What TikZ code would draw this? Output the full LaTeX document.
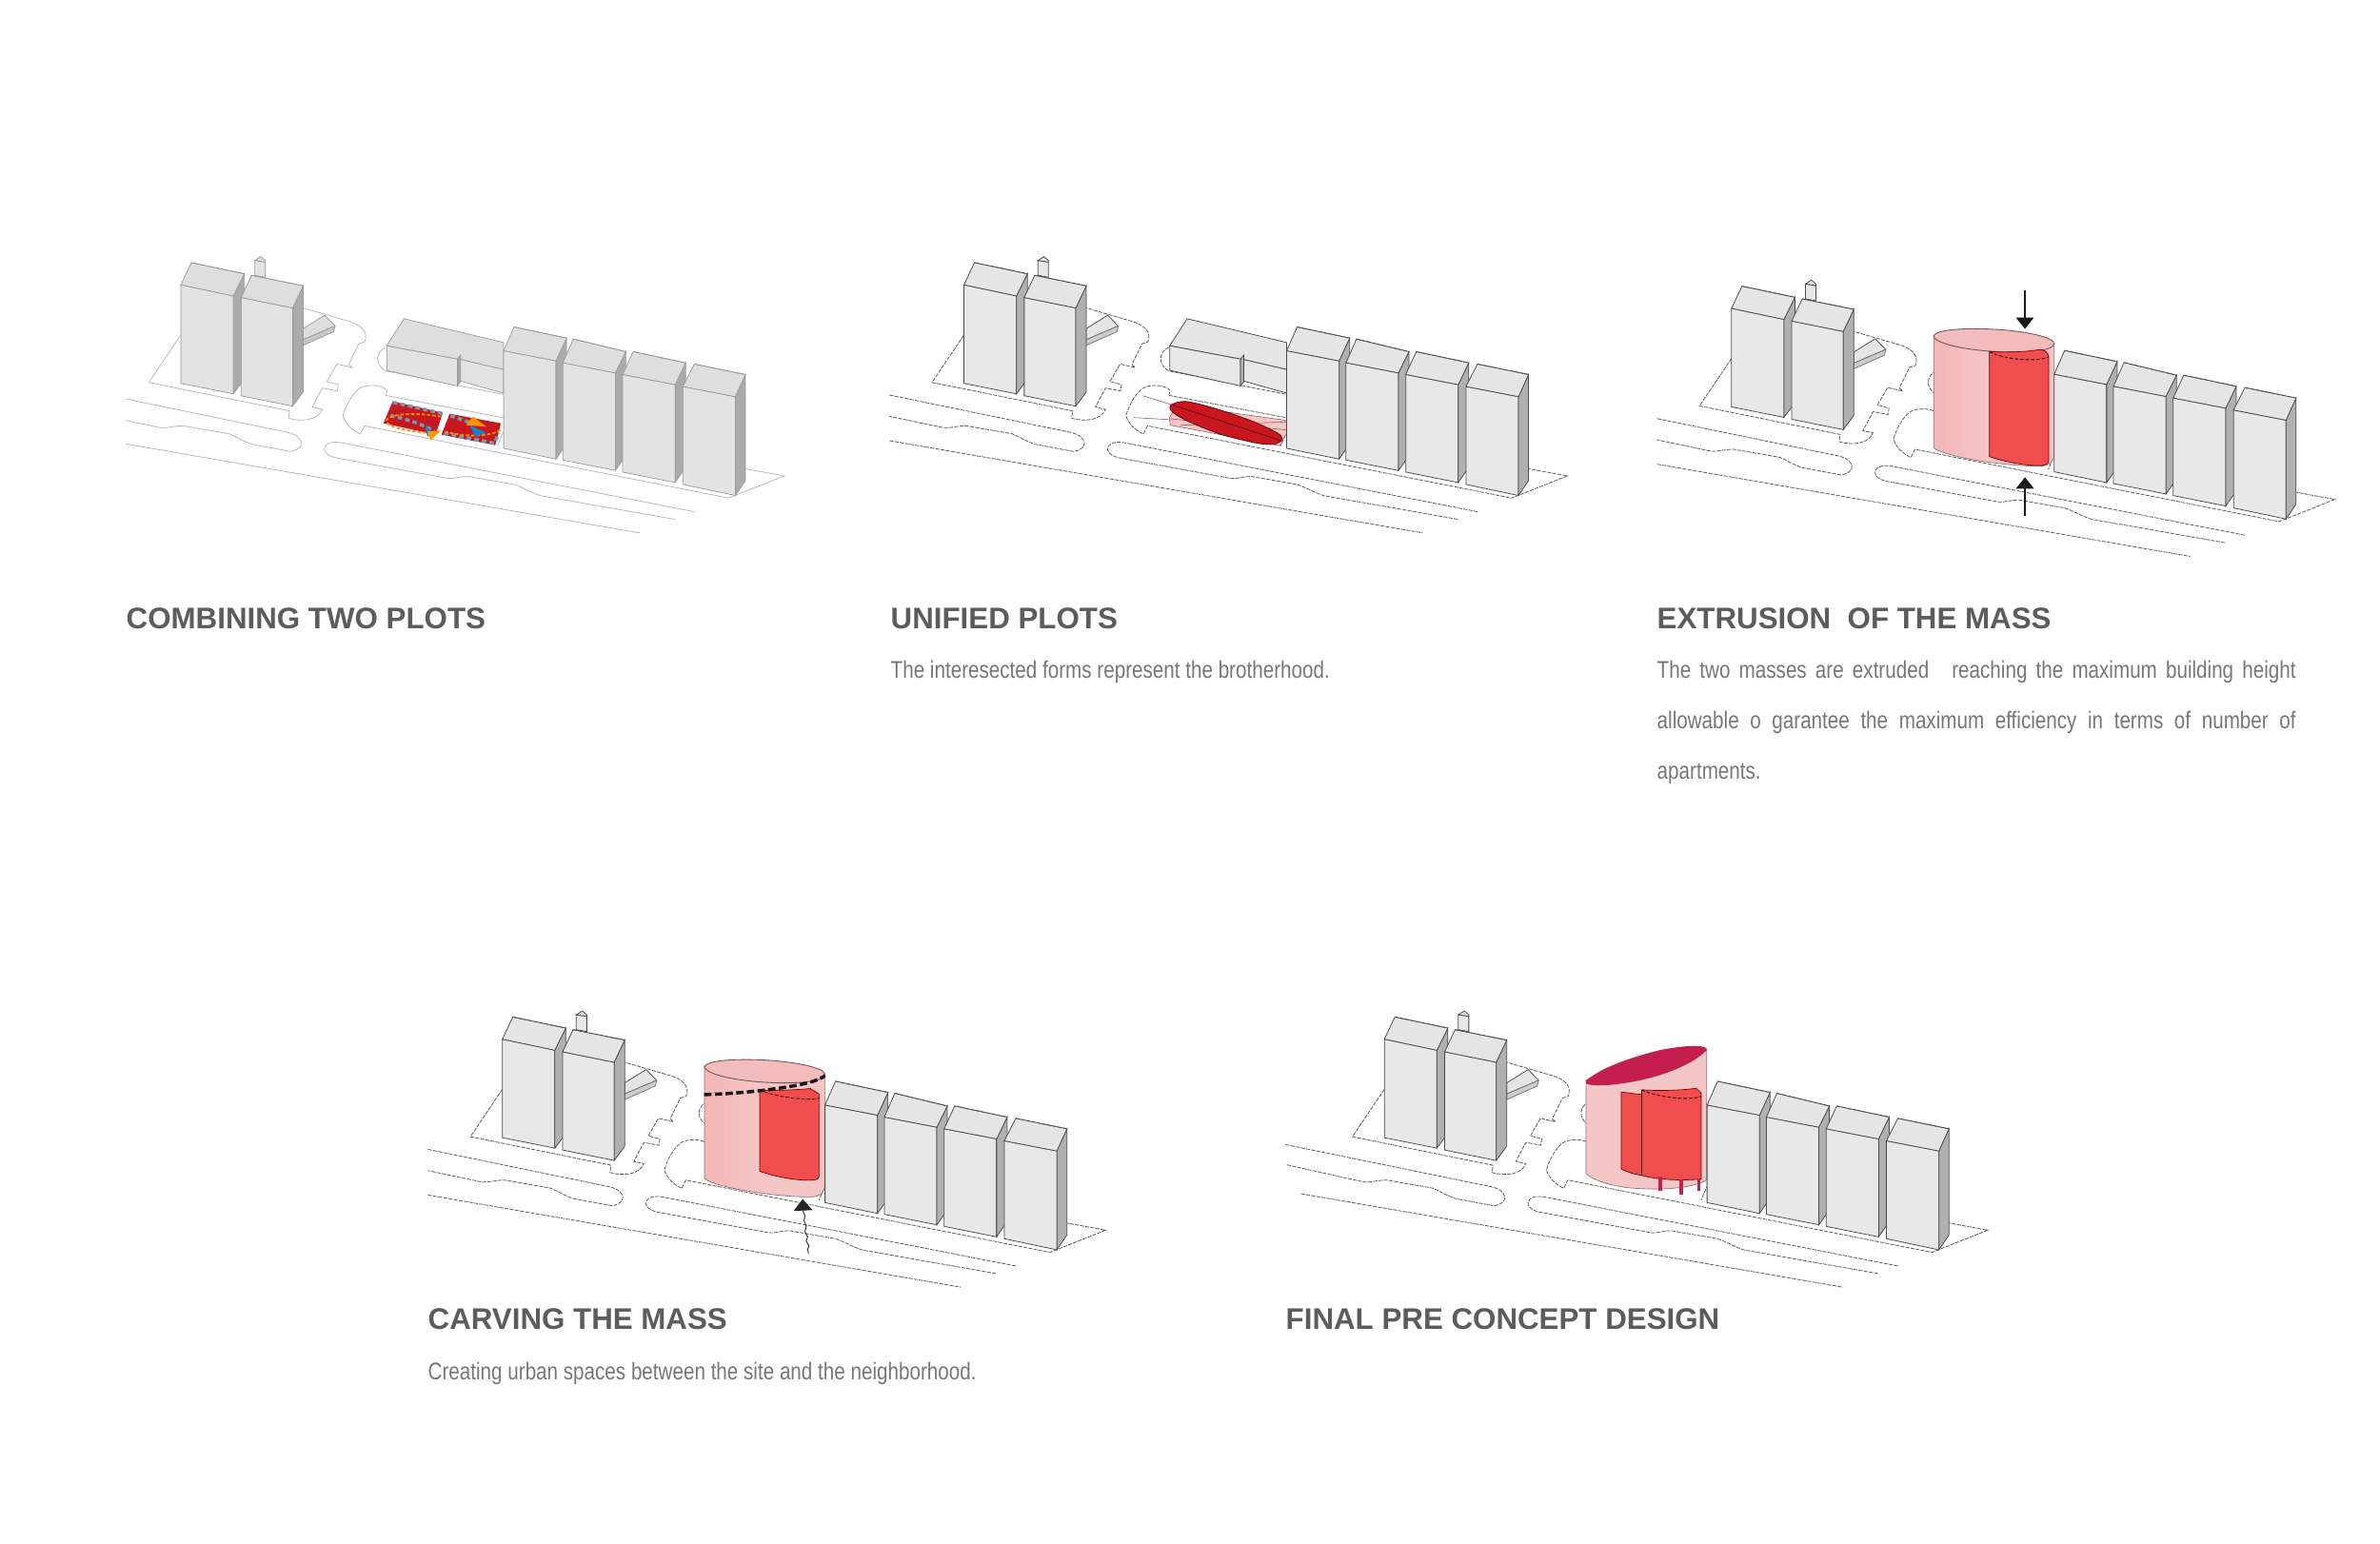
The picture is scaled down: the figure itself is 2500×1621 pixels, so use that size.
\documentclass[tikz,border=0pt]{standalone}
\usepackage{fontspec}
\usetikzlibrary{arrows.meta}
\newfontfamily\headfont{Liberation Sans}[BoldFont={Liberation Sans Bold}]
\newfontfamily\bodyfont[FakeStretch=0.815]{Liberation Sans}
\definecolor{headgrey}{HTML}{5C5C5C}
\definecolor{bodygrey}{HTML}{777777}
\definecolor{pinkbody}{HTML}{F5C6C6}
\definecolor{pinkleft}{HTML}{F3B7B7}
\definecolor{pinktop}{HTML}{F3BCBC}
\definecolor{redmass}{HTML}{EF4D4E}
\definecolor{crimson}{HTML}{C41E4F}
\definecolor{plotred}{HTML}{C8171E}
\tikzset{
  zoomed/.style={x=0.004784cm,y=-0.0033333cm},
  heading/.style={anchor=base west,inner sep=0pt,text=headgrey,font=\headfont\bfseries\fontsize{8.9}{10}\selectfont},
  bodytext/.style={anchor=base west,inner sep=0pt,text=bodygrey,font=\bodyfont\fontsize{7.2}{15}\selectfont},
  site/.style={draw=black!65,line width=.22pt,dash pattern=on 1.2pt off .35pt},
  front/.style={fill=black!9,draw=black!70,line width=.22pt},
  roofface/.style={fill=black!10,draw=black!70,line width=.22pt},
  sideface/.style={fill=black!31,draw=black!70,line width=.22pt},
  wedgeside/.style={fill=black!20,draw=black!55,line width=.2pt},
  backedge/.style={draw=black!70,line width=.22pt,dash pattern=on 1.2pt off .4pt},
  coolpanel/.style={
    site/.style={draw=black!28,line width=.22pt},
    front/.style={fill=blue!2!black!11,draw=black!40,line width=.2pt},
    roofface/.style={fill=blue!2!black!13,draw=black!40,line width=.2pt},
    sideface/.style={fill=blue!2!black!33,draw=black!40,line width=.2pt},
    wedgeside/.style={fill=blue!2!black!22,draw=black!40,line width=.2pt},
    backedge/.style={draw=black!40,line width=.2pt}},
  pinkmass/.style={fill=pinkbody,draw=pink!60!black,line width=.2pt},
  pinktopface/.style={fill=pinktop,draw=pink!45!black,line width=.25pt},
  redface/.style={fill=redmass,draw=red!45!black,line width=.2pt},
  inneredge/.style={draw=red!20!black,line width=.25pt,dash pattern=on 1pt off .6pt},
  bigarrow/.style={-{Triangle[length=3.4pt,width=5.2pt]},line width=.7pt,black!90},
  legline/.style={draw=crimson,line width=1pt},
}
% #1..#7: front top left, front top right, front bottom left, front bottom right, back left, back right, side bottom
\newcommand\twr[7]{%
  \path[front] (#1) -- (#2) -- (#4) -- (#3) -- cycle;
  \path[sideface] (#2) -- (#6) -- (#7) -- (#4) -- cycle;
  \path[roofface] (#1) -- (#5) -- (#6) -- (#2) -- cycle;
  \path[backedge] (#5) -- (#6);
}
% #1,#2,#3: free ends of the three roads at the left
\newcommand\siteplan[3]{%
  \path[site] (205,290) -- (135,440) -- (443,530) -- (441,553) .. controls (470,565) and (505,560) .. (515,525) -- (493,518) -- (515,458) -- (548,467) -- (550,447) -- (525,437) -- (547,382) -- (580,393) -- (573,383) -- (595,318) -- (608,312) .. controls (615,285) and (605,262) .. (575,248) -- (473,205);
  \path[site] (#1) -- (440,598) .. controls (475,610) and (480,650) .. (445,658) -- (360,635) .. controls (340,625) and (325,610) .. (310,602) -- (210,577) .. controls (190,577) and (175,585) .. (160,583) -- (#2);
  \path[site] (#3) -- (1210,915);
  \path[site] (1330,848) -- (555,630) .. controls (515,620) and (505,665) .. (545,678) -- (790,743) .. controls (805,745) and (820,735) .. (835,737) -- (935,762) .. controls (960,775) and (975,790) .. (995,798) -- (1287,872);
  \path[site] (654,481) -- (657,466) .. controls (645,445) and (610,445) .. (595,460) .. controls (575,485) and (565,520) .. (560,545) .. controls (565,570) and (580,590) .. (598,603) -- (607,577) -- (1405,805) -- (1527,735) -- (1440,712);
  \path[site] (654,481) -- (914,552);
  \path[site] (914,590) -- (899,640);
  \path[site] (654,329) .. controls (630,345) and (630,385) .. (654,404) -- (912,478);
}
\newcommand\lefttowers{%
  \path[front] (367,102) -- (367,55) -- (390,60) -- (390,108) -- cycle;
  \path[roofface] (367,55) -- (380,43) -- (390,55) -- (390,60) -- cycle;
  \path[roofface] (473,270) -- (520,228) -- (543,262) -- (473,305) -- cycle;
  \path[wedgeside] (473,305) -- (543,262) -- (540,280) -- (473,323) -- cycle;
  \twr{205,132}{320,167}{205,443}{320,476}{228,62}{344,97}{344,430}
  \twr{337,172}{450,205}{337,482}{450,515}{360,102}{473,135}{473,470}
}
\newcommand\righttowers{%
  \twr{912,340}{1027,372}{912,648}{1027,682}{935,265}{1050,300}{1050,635}
  \twr{1042,378}{1157,410}{1042,685}{1157,718}{1065,303}{1180,343}{1180,672}
  \twr{1173,415}{1288,447}{1173,723}{1288,756}{1196,343}{1311,378}{1311,708}
  \twr{1305,453}{1420,485}{1305,762}{1420,797}{1330,382}{1442,415}{1442,750}
}
\newcommand\lowbuilding{%
  \path[front] (656,324) -- (811,366) -- (811,451) -- (656,402) -- cycle;
  \path[front] (814,366) -- (912,399) -- (912,474) -- (814,434) -- cycle;
  \path[roofface] (656,324) -- (694,239) -- (912,314) -- (912,399) -- (814,366) -- (811,366) -- cycle;
  \path[sideface] (811,366) -- (818,354) -- (818,438) -- (811,451) -- cycle;
}
\newcommand\cylbody{%
  \path[pinkmass,left color=pinkleft,right color=pinkbody,middle color=pinkbody] (648,218) -- (648,572) .. controls (670,600) and (800,630) .. (880,630) .. controls (905,630) and (912,610) .. (912,590) -- (912,243) -- cycle;
}
\newcommand\cyltop{%
  \path[pinktopface] (648,218) .. controls (655,200) and (705,195) .. (760,197) .. controls (840,200) and (912,222) .. (912,243) .. controls (912,262) and (870,272) .. (810,270) .. controls (730,268) and (648,245) .. (648,218);
}
\begin{document}
\begin{tikzpicture}[x=0.01cm,y=-0.01cm]
\useasboundingbox[fill=white] (0,0) rectangle (2500,1621);

% Panel 1
\begin{scope}[shift={(91.7,255.3)},zoomed,coolpanel]
  \siteplan{84,492}{84,560}{84,634}
  \lowbuilding
  \path[fill=plotred] (669,500) -- (779,536) -- (763,605) -- (649,569) -- cycle;
  \path[fill=plotred] (794,539) -- (906,569) -- (894,638) -- (776,605) -- cycle;
  \path[draw=cyan!50!black!70,line width=1pt,dash pattern=on 1.3pt off 1pt] (670,503) -- (778,538) (664,545) .. controls (700,555) and (740,575) .. (760,595);
  \path[draw=cyan!50!black!70,line width=1pt,dash pattern=on 1.3pt off 1pt] (796,545) -- (845,570) (782,600) -- (892,632) -- (902,600);
  \path[draw=orange!90!yellow,line width=.5pt,dash pattern=on 1pt off .6pt] (775,548) .. controls (700,530) and (650,545) .. (656,565) .. controls (665,590) and (740,600) .. (765,600);
  \path[draw=orange!90!yellow,line width=.5pt,dash pattern=on 1pt off .6pt] (905,590) .. controls (880,615) and (815,610) .. (785,595);
  \path[fill=cyan!70!blue] (740,575) -- (760,600) -- (745,610) -- cycle;
  \path[fill=orange!85!yellow] (745,595) -- (775,592) -- (752,622) -- cycle;
  \path[fill=cyan!70!blue] (838,575) -- (875,600) -- (850,610) -- cycle;
  \path[fill=orange!85!yellow] (845,548) -- (875,580) -- (830,575) -- cycle;
  \lefttowers
  \righttowers
\end{scope}

% Panel 2
\begin{scope}[shift={(914.3,255.3)},zoomed]
  \siteplan{42,480}{42,547}{42,624}
  \lowbuilding
  \path[fill=pinkbody,draw=red!40!black!70,line width=.15pt] (655,552) -- (672,512) -- (912,560) -- (912,600) -- (897,640) -- (657,575) -- cycle;
  \path[draw=red!40!black!70,line width=.15pt] (597,482) -- (662,511) (577,551) -- (652,557) (657,555) -- (912,590) (680,575) -- (912,565);
  \path[fill=plotred,draw=red!35!black,line width=.2pt] plot[smooth cycle] coordinates {(658,512) (690,500) (755,522) (838,563) (892,600) (902,620) (885,635) (848,632) (768,604) (698,564) (662,534)};
  \path[draw=red!30!black,line width=.15pt] (662,511) -- (900,624);
  \lefttowers
  \righttowers
\end{scope}

% Panel 3
\begin{scope}[shift={(1720.5,280)},zoomed]
  \siteplan{42,480}{42,547}{42,624}
  \cylbody
  \cyltop
  \path[redface] (770,268) -- (770,600) .. controls (810,620) and (860,630) .. (885,628) .. controls (897,626) and (900,620) .. (900,610) -- (900,285) .. controls (900,272) and (890,262) .. (880,262) .. controls (850,270) and (800,272) .. (770,268) -- cycle;
  \path[inneredge] (770,268) .. controls (800,295) and (880,302) .. (900,285);
  \lefttowers
  \righttowers
  \coordinate (p3topstart) at (848,75);
  \coordinate (p3topend) at (848,197);
  \coordinate (p3botstart) at (848,788);
  \coordinate (p3botend) at (848,665);
  \draw[bigarrow] (p3topstart) -- (p3topend);
  \draw[bigarrow] (p3botstart) -- (p3botend);
\end{scope}

% Panel 4
\begin{scope}[shift={(429.4,1047.7)},zoomed]
  \siteplan{42,480}{42,547}{42,624}
  \cylbody
  \cyltop
  \path[redface] (769,292) -- (769,549) .. controls (800,565) and (850,580) .. (885,577) .. controls (895,576) and (899,572) .. (899,565) -- (899,305) -- (880,288) .. controls (850,292) and (800,295) .. (769,292) -- cycle;
  \path[inneredge] (769,292) .. controls (800,315) and (880,328) .. (899,318);
  \lefttowers
  \righttowers
  \path[draw=black!90,line width=1pt,dash pattern=on 2.2pt off 1pt] (647,307) .. controls (700,305) and (760,298) .. (820,285) .. controls (870,274) and (900,262) .. (912,247);
  \coordinate (p4start) at (876,809);
  \coordinate (p4end) at (863,637);
  \draw[black!85,line width=.25pt,-{Triangle[length=3.4pt,width=5.6pt]}] (p4start) -- (874,795) -- (877,785) -- (871,770) -- (874,755) -- (868,740) -- (871,722) -- (866,705) -- (868,690) -- (864,675) -- (p4end);
\end{scope}

% Panel 5
\begin{scope}[shift={(1355.9,1047.7)},zoomed]
  \siteplan{-11,465}{-11,528}{22,620}
  \path[pinkmass] (647,262) -- (647,557) .. controls (670,585) and (720,602) .. (770,604) .. controls (830,608) and (880,600) .. (911,577) -- (911,162) -- cycle;
  \path[fill=crimson] (647,262) .. controls (680,225) and (730,195) .. (808,167) .. controls (840,157) and (885,150) .. (900,155) .. controls (908,157) and (911,160) .. (911,167) .. controls (880,215) and (800,258) .. (725,272) .. controls (690,280) and (655,280) .. (647,272) -- cycle;
  \path[redface] (724,299) -- (769,307) -- (769,562) .. controls (750,558) and (735,550) .. (724,542) -- cycle;
  \path[redface] (769,292) -- (769,562) .. controls (810,578) and (860,578) .. (899,574) -- (899,302) -- (888,287) .. controls (850,295) and (800,295) .. (769,292) -- cycle;
  \path[inneredge] (769,292) .. controls (800,315) and (875,328) .. (899,312);
  \path[draw=black!85,line width=.45pt] (769,292) -- (769,562);
  \path[legline] (810,567) -- (810,610);
  \path[legline] (855,575) -- (855,622);
  \path[legline] (894,574) -- (894,610);
  \lefttowers
  \righttowers
\end{scope}

% Texts
\node[heading] (h1) at (132,660) {COMBINING TWO PLOTS};
\node[heading] (h2) at (935,660) {UNIFIED PLOTS};
\node[heading] (h3) at (1740,660) {EXTRUSION\ \ OF THE MASS};
\node[heading] (h4) at (449,1396) {CARVING THE MASS};
\node[heading] (h5) at (1350,1396) {FINAL PRE CONCEPT DESIGN};
\node[bodytext] (b2) at (935,712.7) {The interesected forms represent the brotherhood.};
\node[bodytext] (b31) at (1740,712.7) {\hbox to 190.8pt{The\hfil two\hfil masses\hfil are\hfil extruded\hfil\ \hfil reaching\hfil the\hfil maximum\hfil building\hfil height}};
\node[bodytext] (b32) at (1740,765.4) {\hbox to 190.8pt{allowable\hfil o\hfil garantee\hfil the\hfil maximum\hfil efficiency\hfil in\hfil terms\hfil of\hfil number\hfil of}};
\node[bodytext] (b33) at (1740,818) {apartments.};
\node[bodytext] (b4) at (449,1449) {Creating urban spaces between the site and the neighborhood.};
\end{tikzpicture}
\end{document}
